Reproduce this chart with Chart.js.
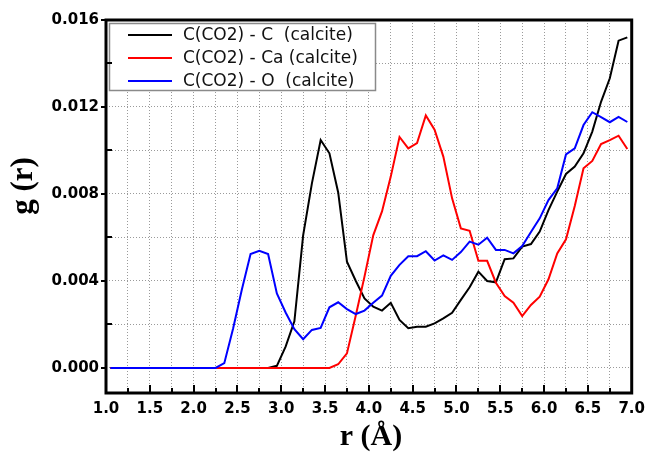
<!DOCTYPE html>
<html>
<head>
<meta charset="utf-8">
<script src="https://cdn.jsdelivr.net/npm/chart.js@4.4.0/dist/chart.umd.min.js"></script>
<style>
  html, body { margin: 0; padding: 0; background: #fff; }
  #chart { display: block; }
</style>
</head>
<body>
<canvas id="chart" width="652" height="452"></canvas>
<script>
// r values (bin centres, Å)
const rValues = [1.05, 1.15, 1.25, 1.35, 1.45, 1.55, 1.65, 1.75, 1.85, 1.95,
  2.05, 2.15, 2.25, 2.35, 2.45, 2.55, 2.65, 2.75, 2.85, 2.95,
  3.05, 3.15, 3.25, 3.35, 3.45, 3.55, 3.65, 3.75, 3.85, 3.95,
  4.05, 4.15, 4.25, 4.35, 4.45, 4.55, 4.65, 4.75, 4.85, 4.95,
  5.05, 5.15, 5.25, 5.35, 5.45, 5.55, 5.65, 5.75, 5.85, 5.95,
  6.05, 6.15, 6.25, 6.35, 6.45, 6.55, 6.65, 6.75, 6.85, 6.95];

// C(CO2) - C (calcite)
const gC = [0, 0, 0, 0, 0, 0, 0, 0, 0, 0,
  0, 0, 0, 0, 0, 0, 0, 0, 0, 0.0001,
  0.00098, 0.00215, 0.0061, 0.00849, 0.01048, 0.00987, 0.00807, 0.00489, 0.00401, 0.0032,
  0.00282, 0.00264, 0.003, 0.00221, 0.00183, 0.0019, 0.0019, 0.00205, 0.00228, 0.00254,
  0.00313, 0.00371, 0.00443, 0.004, 0.00394, 0.005, 0.00504, 0.00558, 0.0057, 0.00627,
  0.00726, 0.00811, 0.00892, 0.00926, 0.00987, 0.01087, 0.01224, 0.01332, 0.01505, 0.0152];

// C(CO2) - Ca (calcite)
const gCa = [0, 0, 0, 0, 0, 0, 0, 0, 0, 0,
  0, 0, 0, 0, 0, 0, 0, 0, 0, 0,
  0, 0, 0, 0, 0, 0, 0.00017, 0.00067, 0.0024, 0.0042,
  0.0061, 0.0072, 0.0088, 0.01062, 0.0101, 0.01034, 0.01161, 0.01096, 0.00972, 0.0078,
  0.00642, 0.00631, 0.00493, 0.00493, 0.00392, 0.00331, 0.003, 0.00239, 0.0029, 0.00328,
  0.00408, 0.00527, 0.00592, 0.00745, 0.00918, 0.00952, 0.0103, 0.01048, 0.01068, 0.01007];

// C(CO2) - O (calcite)
const gO = [0, 0, 0, 0, 0, 0, 0, 0, 0, 0,
  0, 0, 0, 0.00022, 0.0018, 0.0036, 0.00524, 0.00539, 0.00524, 0.00343,
  0.00255, 0.00178, 0.00132, 0.00175, 0.00184, 0.00279, 0.00302, 0.00271, 0.00248, 0.00264,
  0.003, 0.00333, 0.00424, 0.00474, 0.00514, 0.00514, 0.00537, 0.00494, 0.00518, 0.00497,
  0.00533, 0.00581, 0.00567, 0.00599, 0.00543, 0.00543, 0.00527, 0.00561, 0.00625, 0.00688,
  0.00772, 0.00826, 0.00982, 0.0101, 0.01117, 0.01176, 0.01153, 0.0113, 0.01154, 0.01131];

const seriesNames = ['C(CO2) - C  (calcite)', 'C(CO2) - Ca (calcite)', 'C(CO2) - O  (calcite)'];
const seriesColors = ['#000000', '#ff0000', '#0000ff'];

// grid / tick positions
const xTicks = [1, 1.25, 1.5, 1.75, 2, 2.25, 2.5, 2.75, 3, 3.25, 3.5, 3.75, 4, 4.25,
  4.5, 4.75, 5, 5.25, 5.5, 5.75, 6, 6.25, 6.5, 6.75, 7];
const yTicks = [0, 0.002, 0.004, 0.006, 0.008, 0.010, 0.012, 0.014, 0.016];

const toXY = (ys) => ys.map((y, i) => ({ x: rValues[i], y: y }));

// frame, inward ticks, legend box and axis titles
const decor = {
  id: 'decor',
  afterDatasetsDraw(chart) {
    const ctx = chart.ctx, a = chart.chartArea;
    const xs = chart.scales.x, ys = chart.scales.y;
    ctx.save();

    // legend
    const lx = 109.5, ly = 23.5, lw = 266, lh = 67;
    ctx.fillStyle = '#fff';
    ctx.fillRect(lx, ly, lw, lh);
    ctx.strokeStyle = '#8a8a8a';
    ctx.lineWidth = 1.5;
    ctx.strokeRect(lx, ly, lw, lh);
    ctx.font = '17px "DejaVu Sans"';
    ctx.textBaseline = 'middle';
    ctx.textAlign = 'left';
    chart.data.datasets.forEach((d, i) => {
      const yy = 35 + i * 23;
      ctx.strokeStyle = d.borderColor;
      ctx.lineWidth = 2;
      ctx.beginPath();
      ctx.moveTo(128, yy);
      ctx.lineTo(172, yy);
      ctx.stroke();
      ctx.fillStyle = '#111';
      ctx.fillText(d.label, 183, yy + 1);
    });

    // ticks
    ctx.strokeStyle = '#000';
    ctx.lineWidth = 2;
    xTicks.forEach((v, i) => {
      const px = Math.round(xs.getPixelForValue(v));
      const len = i % 2 === 0 ? 8 : 5;
      ctx.beginPath();
      ctx.moveTo(px, a.bottom);
      ctx.lineTo(px, a.bottom - len);
      ctx.stroke();
    });
    yTicks.forEach((v, i) => {
      const py = Math.round(ys.getPixelForValue(v));
      ctx.beginPath();
      if (i % 2 === 0) {
        ctx.moveTo(a.left - 5, py);
        ctx.lineTo(a.left, py);
      } else {
        ctx.moveTo(a.left, py);
        ctx.lineTo(a.left + 6, py);
      }
      ctx.stroke();
    });

    // frame
    ctx.lineWidth = 3;
    ctx.strokeRect(a.left, a.top, a.right - a.left, a.bottom - a.top);

    // axis titles
    ctx.fillStyle = '#000';
    ctx.font = 'bold 31px "Liberation Serif"';
    ctx.textAlign = 'center';
    ctx.textBaseline = 'middle';
    ctx.save();
    ctx.translate(24, 186);
    ctx.rotate(-Math.PI / 2);
    ctx.fillText('g (r)', 0, 0);
    ctx.restore();
    ctx.textBaseline = 'alphabetic';
    ctx.font = 'bold 30px "Liberation Serif"';
    ctx.fillText('r (Å)', 371, 445);

    ctx.restore();
  }
};

new Chart(document.getElementById('chart'), {
  type: 'line',
  data: {
    datasets: [
      { label: seriesNames[0], data: toXY(gC), borderColor: seriesColors[0], order: 2 },
      { label: seriesNames[1], data: toXY(gCa), borderColor: seriesColors[1], order: 1 },
      { label: seriesNames[2], data: toXY(gO), borderColor: seriesColors[2], order: 0 }
    ]
  },
  options: {
    responsive: false,
    animation: false,
    devicePixelRatio: 1,
    layout: { padding: { left: 0, right: 14, top: 20, bottom: 0 } },
    elements: {
      line: { borderWidth: 2, tension: 0, fill: false },
      point: { radius: 0 }
    },
    plugins: {
      legend: { display: false },
      tooltip: { enabled: false }
    },
    scales: {
      x: {
        type: 'linear',
        min: 1,
        max: 7,
        afterBuildTicks: (s) => { s.ticks = xTicks.map(v => ({ value: v })); },
        afterFit: (s) => { s.height = 59; },
        grid: { color: '#9a9a9a', lineWidth: 1, drawTicks: false },
        border: { display: false, dash: [1, 2] },
        ticks: {
          padding: 7,
          color: '#000',
          font: { family: 'DejaVu Sans', weight: 'bold', size: 15 },
          maxRotation: 0,
          autoSkip: false,
          callback: (v, i) => (i % 2 === 0 ? Number(v).toFixed(1) : '')
        }
      },
      y: {
        min: -0.00115,
        max: 0.016,
        afterBuildTicks: (s) => { s.ticks = yTicks.map(v => ({ value: v })); },
        afterFit: (s) => { s.width = 106; },
        grid: { color: '#9a9a9a', lineWidth: 1, drawTicks: false },
        border: { display: false, dash: [1, 2] },
        ticks: {
          padding: 7,
          color: '#000',
          font: { family: 'DejaVu Sans', weight: 'bold', size: 15 },
          autoSkip: false,
          callback: (v, i) => (i % 2 === 0 ? Number(v).toFixed(3) : '')
        }
      }
    }
  },
  plugins: [decor]
});
</script>
</body>
</html>
